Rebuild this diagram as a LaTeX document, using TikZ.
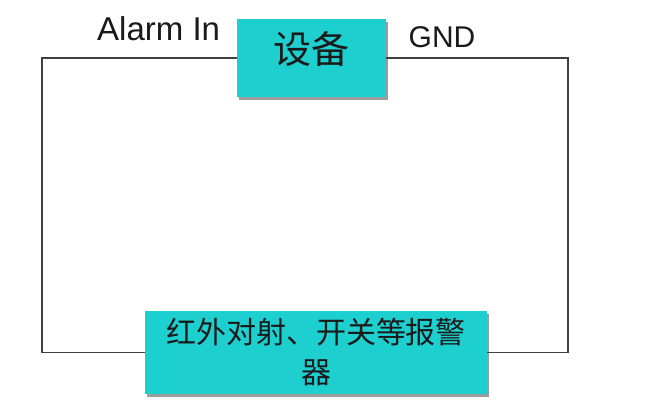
\documentclass[tikz,border=0pt]{standalone}
\usepackage{fontspec}
\setmainfont{Liberation Sans}
\newfontfamily\cjk{Noto Sans CJK SC}
\usetikzlibrary{positioning,shadows}
\definecolor{devteal}{HTML}{1ECFCF}
\definecolor{ink}{HTML}{1A1A1A}

\begin{document}
\begin{tikzpicture}[x=1pt,y=-1pt,
  box/.style={fill=devteal,inner sep=0pt,text=ink,drop shadow={shadow xshift=2pt,shadow yshift=-3pt,fill=black!70,opacity=.55}},
  pin/.style={inner sep=0pt,text=ink},
  wire/.style={draw=black!75,line width=1.1pt}]
\useasboundingbox[fill=white] (0,0) rectangle (654,408);
\coordinate (lft) at (42,0);
\coordinate (rgt) at (568,0);
\node[box,minimum width=149pt,minimum height=78pt] (dev) at (311.5,58) {};
\node[pin,font=\cjk\fontsize{38}{40}\selectfont] (devtxt) at ([yshift=9pt]dev.center) {设备};
\node[box,minimum width=342pt,minimum height=83pt,align=center,font=\cjk\fontsize{30}{40}\selectfont] (alarm) at (316,352.5) {红外对射、开关等报警\\器};
\node[pin,anchor=base west,font=\fontsize{33}{36}\selectfont] (alarmin) at (97,40) {Alarm In};
\node[pin,anchor=base,font=\fontsize{30}{34}\selectfont] (gnd) at (442,47) {GND};
\draw[wire] (dev.west) -| (lft |- alarm.west) -- (alarm.west);
\draw[wire] (dev.east) -| (rgt |- alarm.east) -- (alarm.east);
\end{tikzpicture}
\end{document}
